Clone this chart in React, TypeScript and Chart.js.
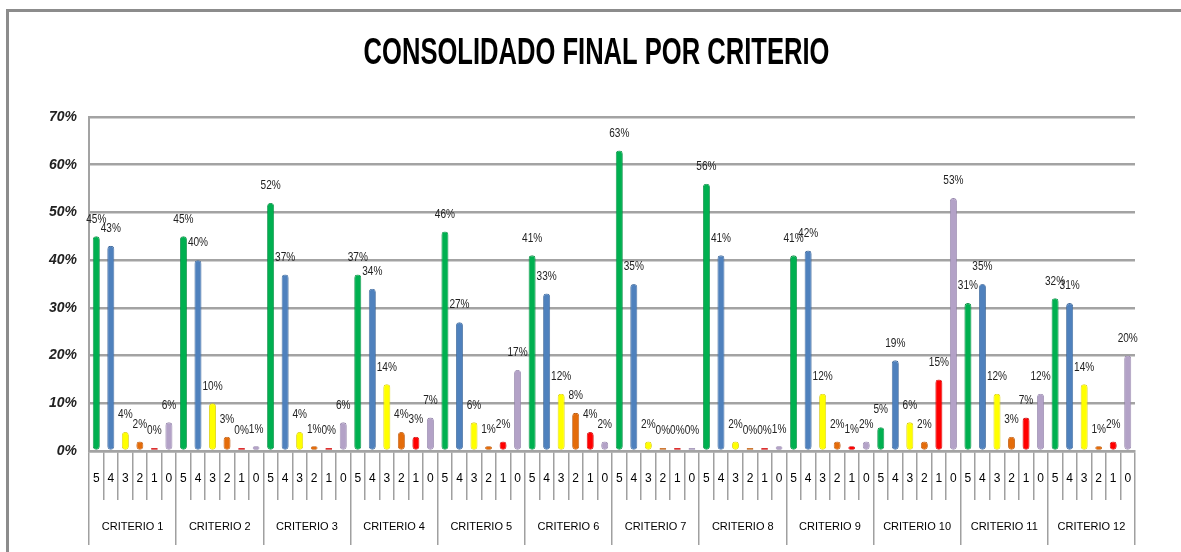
import { useEffect, useRef } from 'react';
import { Chart, registerables } from 'chart.js';

Chart.register(...registerables);

const criteria = [
  'CRITERIO 1', 'CRITERIO 2', 'CRITERIO 3', 'CRITERIO 4', 'CRITERIO 5', 'CRITERIO 6',
  'CRITERIO 7', 'CRITERIO 8', 'CRITERIO 9', 'CRITERIO 10', 'CRITERIO 11', 'CRITERIO 12',
];
const ratings = ['5', '4', '3', '2', '1', '0'];

const score5 = [45, 45, 52, 37, 46, 41, 63, 56, 41, 5, 31, 32];
const score4 = [43, 40, 37, 34, 27, 33, 35, 41, 42, 19, 35, 31];
const score3 = [4, 10, 4, 14, 6, 12, 2, 2, 12, 6, 12, 14];
const score2 = [2, 3, 1, 4, 1, 8, 0, 0, 2, 2, 3, 1];
const score1 = [0, 0, 0, 3, 2, 4, 0, 0, 1, 15, 7, 2];
const score0 = [6, 1, 6, 7, 17, 2, 0, 1, 2, 53, 12, 20];

const yTicks = [0, 10, 20, 30, 40, 50, 60, 70];
const titleText = 'CONSOLIDADO FINAL POR CRITERIO';

const seriesValues = [score5, score4, score3, score2, score1, score0];
const seriesColors = ['#00b050', '#4f81bd', '#ffff00', '#e46c0a', '#ff0000', '#b3a2c7'];
const seriesBorders = ['#00873d', '#3a6497', '#d6c800', '#b85508', '#c80000', '#8f7fa6'];

const sansFont = '"Liberation Sans", Arial, sans-serif';

const condensedTitle = {
  id: 'condensedTitle',
  afterDraw(chart: any) {
    const ctx = chart.ctx;
    ctx.save();
    ctx.font = 'bold 36px ' + sansFont;
    ctx.fillStyle = '#000';
    ctx.textAlign = 'center';
    ctx.textBaseline = 'middle';
    ctx.translate(chart.width / 2 + 6, 54);
    ctx.scale(0.71, 1);
    ctx.fillText(titleText, 0, 0);
    ctx.restore();
  },
};

const valueLabels = {
  id: 'valueLabels',
  afterDatasetsDraw(chart: any) {
    const ctx = chart.ctx;
    ctx.save();
    ctx.font = '12px ' + sansFont;
    ctx.fillStyle = '#222';
    ctx.textAlign = 'center';
    ctx.textBaseline = 'bottom';
    chart.data.datasets.forEach((ds: any, di: number) => {
      const meta = chart.getDatasetMeta(di);
      meta.data.forEach((bar: any, i: number) => {
        ctx.save();
        ctx.translate(bar.x, bar.y - 11);
        ctx.scale(0.84, 1);
        ctx.fillText(ds.data[i] + '%', 0, 0);
        ctx.restore();
      });
    });
    ctx.restore();
  },
};

export default function App() {
  const canvasRef = useRef<HTMLCanvasElement | null>(null);

  useEffect(() => {
    if (!canvasRef.current) return;
    const ratingLabels: string[] = [];
    criteria.forEach(() => ratings.forEach((r) => ratingLabels.push(r)));

    const chart = new Chart(canvasRef.current, {
      type: 'bar',
      data: {
        labels: criteria,
        datasets: seriesValues.map((vals, i) => ({
          label: ratings[i],
          data: vals,
          backgroundColor: seriesColors[i],
          borderColor: seriesBorders[i],
          borderWidth: 0.8,
          borderRadius: 4,
          borderSkipped: false,
          minBarLength: 3,
          barPercentage: 0.48,
          categoryPercentage: 1,
          xAxisID: 'x',
          yAxisID: 'y',
        })),
      },
      options: {
        animation: false,
        responsive: false,
        maintainAspectRatio: false,
        layout: { padding: { left: 37, right: 46, top: 117, bottom: 7 } },
        plugins: {
          legend: { display: false },
          tooltip: { enabled: false },
          title: { display: false },
        },
        scales: {
          y: {
            min: 0,
            max: 70,
            afterBuildTicks: (scale: any) => {
              scale.ticks = yTicks.map((v) => ({ value: v }));
            },
            ticks: {
              callback: (v: any) => v + '%',
              color: '#222',
              font: { family: sansFont, size: 14, weight: 'bold', style: 'italic' },
              padding: 12,
            },
            grid: { color: '#a3a3a3', lineWidth: 2.5, drawTicks: false },
            border: { display: true, color: '#a3a3a3', width: 2 },
          },
          xr: {
            type: 'category',
            position: 'bottom',
            labels: ratingLabels,
            offset: true,
            weight: 0,
            afterFit: (scale: any) => {
              scale.height = 49;
            },
            grid: {
              offset: true,
              drawOnChartArea: false,
              drawTicks: true,
              tickLength: 49,
              color: '#a0a0a0',
              lineWidth: 1.5,
            },
            border: { display: true, color: '#a3a3a3', width: 2.5 },
            ticks: {
              autoSkip: false,
              maxRotation: 0,
              minRotation: 0,
              padding: -29,
              color: '#000',
              font: { family: sansFont, size: 12 },
            },
          },
          x: {
            type: 'category',
            position: 'bottom',
            offset: true,
            weight: 1,
            afterFit: (scale: any) => {
              scale.height = 45;
            },
            grid: {
              offset: true,
              drawOnChartArea: false,
              drawTicks: true,
              tickLength: 45,
              color: '#a0a0a0',
              lineWidth: 1.5,
            },
            border: { display: false },
            ticks: {
              autoSkip: false,
              maxRotation: 0,
              minRotation: 0,
              padding: -25,
              color: '#000',
              font: { family: sansFont, size: 11 },
            },
          },
        },
      },
      plugins: [valueLabels, condensedTitle],
    } as any);

    return () => chart.destroy();
  }, []);

  return (
    <div style={{ position: 'absolute', left: 0, top: 0, width: 1181, height: 552, overflow: 'hidden', background: '#fff' }}>
      <div
        style={{
          position: 'absolute',
          left: 6,
          top: 9,
          width: 1200,
          height: 600,
          borderTop: '3px solid #8c8c8c',
          borderLeft: '3px solid #8c8c8c',
          boxSizing: 'border-box',
        }}
      />
      <canvas
        ref={canvasRef}
        width={1181}
        height={552}
        style={{ position: 'absolute', left: 0, top: 0, width: 1181, height: 552 }}
      />
    </div>
  );
}
